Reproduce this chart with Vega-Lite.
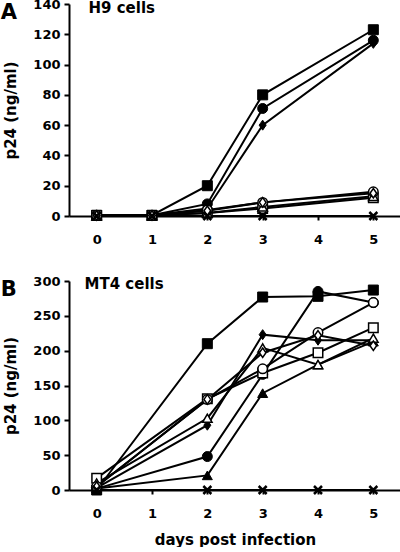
{
  "$schema": "https://vega.github.io/schema/vega-lite/v6.json",
  "padding": {"left": 0, "top": -2, "right": 0, "bottom": 0},
  "background": "white",
  "spacing": 65,
  "bounds": "flush",
  "config": {
    "view": {"stroke": null},
    "font": "DejaVu Sans",
    "axis": {
      "grid": false,
      "domainColor": "black",
      "domainWidth": 2,
      "tickColor": "black",
      "tickWidth": 2,
      "labelColor": "black",
      "labelFont": "DejaVu Sans",
      "labelFontWeight": "bold",
      "labelFontSize": 13,
      "labelFlush": false,
      "labelOverlap": false,
      "format": "d",
      "titleColor": "black",
      "titleFont": "DejaVu Sans",
      "titleFontWeight": "bold",
      "titleFontSize": 15
    },
    "title": {"color": "black", "font": "DejaVu Sans", "fontWeight": "bold", "fontSize": 21}
  },
  "datasets": {
    "h9": [
      {"series": "filled square", "day": 0, "p24": 0.5},
      {"series": "filled square", "day": 1, "p24": 0.5},
      {"series": "filled square", "day": 2, "p24": 20},
      {"series": "filled square", "day": 3, "p24": 80},
      {"series": "filled square", "day": 5, "p24": 123},
      {"series": "filled circle", "day": 0, "p24": 0.5},
      {"series": "filled circle", "day": 1, "p24": 0.5},
      {"series": "filled circle", "day": 2, "p24": 8},
      {"series": "filled circle", "day": 3, "p24": 71},
      {"series": "filled circle", "day": 5, "p24": 116},
      {"series": "filled diamond", "day": 0, "p24": 0.5},
      {"series": "filled diamond", "day": 1, "p24": 0.5},
      {"series": "filled diamond", "day": 2, "p24": 5},
      {"series": "filled diamond", "day": 3, "p24": 60},
      {"series": "filled diamond", "day": 5, "p24": 114},
      {"series": "open square", "day": 0, "p24": 0.3},
      {"series": "open square", "day": 1, "p24": 0.3},
      {"series": "open square", "day": 2, "p24": 2},
      {"series": "open square", "day": 3, "p24": 5},
      {"series": "open square", "day": 5, "p24": 12},
      {"series": "open triangle", "day": 0, "p24": 0.3},
      {"series": "open triangle", "day": 1, "p24": 0.3},
      {"series": "open triangle", "day": 2, "p24": 2},
      {"series": "open triangle", "day": 3, "p24": 6},
      {"series": "open triangle", "day": 5, "p24": 13},
      {"series": "open circle", "day": 0, "p24": 0.3},
      {"series": "open circle", "day": 1, "p24": 0.3},
      {"series": "open circle", "day": 2, "p24": 4},
      {"series": "open circle", "day": 3, "p24": 9},
      {"series": "open circle", "day": 5, "p24": 16},
      {"series": "open diamond", "day": 0, "p24": 0.3},
      {"series": "open diamond", "day": 1, "p24": 0.3},
      {"series": "open diamond", "day": 2, "p24": 3.5},
      {"series": "open diamond", "day": 3, "p24": 9},
      {"series": "open diamond", "day": 5, "p24": 15},
      {"series": "cross", "day": 0, "p24": 0},
      {"series": "cross", "day": 1, "p24": 0},
      {"series": "cross", "day": 2, "p24": 0},
      {"series": "cross", "day": 3, "p24": 0},
      {"series": "cross", "day": 5, "p24": 0}
    ],
    "mt4": [
      {"series": "filled triangle", "day": 0, "p24": 2},
      {"series": "filled triangle", "day": 2, "p24": 21},
      {"series": "filled triangle", "day": 3, "p24": 139},
      {"series": "filled triangle", "day": 4, "p24": 180},
      {"series": "filled triangle", "day": 5, "p24": 213},
      {"series": "filled circle", "day": 0, "p24": 2},
      {"series": "filled circle", "day": 2, "p24": 48},
      {"series": "filled circle", "day": 3, "p24": 166},
      {"series": "filled circle", "day": 4, "p24": 285},
      {"series": "filled circle", "day": 5, "p24": 269},
      {"series": "filled diamond", "day": 0, "p24": 3},
      {"series": "filled diamond", "day": 2, "p24": 93},
      {"series": "filled diamond", "day": 3, "p24": 223},
      {"series": "filled diamond", "day": 4, "p24": 215},
      {"series": "filled diamond", "day": 5, "p24": 215},
      {"series": "filled square", "day": 0, "p24": 0},
      {"series": "filled square", "day": 2, "p24": 210},
      {"series": "filled square", "day": 3, "p24": 277},
      {"series": "filled square", "day": 4, "p24": 278},
      {"series": "filled square", "day": 5, "p24": 287},
      {"series": "open square", "day": 0, "p24": 17},
      {"series": "open square", "day": 2, "p24": 131},
      {"series": "open square", "day": 3, "p24": 168},
      {"series": "open square", "day": 4, "p24": 197},
      {"series": "open square", "day": 5, "p24": 233},
      {"series": "open triangle", "day": 0, "p24": 10},
      {"series": "open triangle", "day": 2, "p24": 103},
      {"series": "open triangle", "day": 3, "p24": 204},
      {"series": "open triangle", "day": 4, "p24": 180},
      {"series": "open triangle", "day": 5, "p24": 218},
      {"series": "open circle", "day": 0, "p24": 5},
      {"series": "open circle", "day": 2, "p24": 130},
      {"series": "open circle", "day": 3, "p24": 174},
      {"series": "open circle", "day": 4, "p24": 226},
      {"series": "open circle", "day": 5, "p24": 269},
      {"series": "open diamond", "day": 0, "p24": 5},
      {"series": "open diamond", "day": 2, "p24": 130},
      {"series": "open diamond", "day": 3, "p24": 197},
      {"series": "open diamond", "day": 4, "p24": 222},
      {"series": "open diamond", "day": 5, "p24": 207},
      {"series": "cross", "day": 0, "p24": 0},
      {"series": "cross", "day": 2, "p24": 0},
      {"series": "cross", "day": 3, "p24": 0},
      {"series": "cross", "day": 4, "p24": 0},
      {"series": "cross", "day": 5, "p24": 0}
    ]
  },
  "vconcat": [
    {
      "width": 332,
      "height": 212,
      "data": {"name": "h9"},
      "title": {"text": "A", "anchor": "start", "frame": "bounds", "offset": -25, "dx": -3},
      "resolve": {"axis": {"x": "independent"}},
      "encoding": {
        "y": {"field": "p24", "type": "quantitative", "scale": {"domain": [0, 140]},
              "axis": {"values": [0, 20, 40, 60, 80, 100, 120, 140], "labelOverlap": false, "title": "p24 (ng/ml)", "tickSize": 5, "labelPadding": 4, "titlePadding": 14}}
      },
      "layer": [
        {
          "mark": {"type": "line", "color": "black", "strokeWidth": 2},
          "encoding": {
            "x": {"field": "day", "type": "quantitative", "scale": {"domain": [-0.5, 5.5]},
                  "axis": {"values": [0, 1, 2, 3, 4, 5], "title": null, "tickSize": 4, "labelPadding": 13}},
            "detail": {"field": "series"}
          }
        },
        {
          "transform": [{"filter": "indexof(datum.series, 'filled') === 0"}],
          "mark": {"type": "point", "stroke": "black", "fill": "black", "filled": true, "opacity": 1, "size": 100, "strokeWidth": 1},
          "encoding": {
            "x": {"field": "day", "type": "quantitative", "axis": null},
            "shape": {"field": "series", "type": "nominal", "legend": null,
              "scale": {"domain": ["filled square", "filled circle", "filled diamond", "filled triangle", "open square", "open circle", "open diamond", "open triangle", "cross"],
                        "range": ["square", "circle", "M0,-1L0.7,0L0,1L-0.7,0Z", "triangle-up", "square", "circle", "M0,-1L0.7,0L0,1L-0.7,0Z", "triangle-up", "M-1,-1L1,1M-1,1L1,-1"]}}
          }
        },
        {
          "transform": [{"filter": "indexof(datum.series, 'open') === 0"}],
          "mark": {"type": "point", "stroke": "black", "fill": "white", "opacity": 1, "fillOpacity": 1, "size": 90, "strokeWidth": 1.5},
          "encoding": {
            "x": {"field": "day", "type": "quantitative", "axis": null},
            "shape": {"field": "series", "type": "nominal", "legend": null}
          }
        },
        {
          "transform": [{"filter": "datum.series === 'cross'"}],
          "mark": {"type": "point", "stroke": "black", "fill": null, "opacity": 1, "size": 64, "strokeWidth": 2.5},
          "encoding": {
            "x": {"field": "day", "type": "quantitative",
                  "axis": {"orient": "top", "domain": false, "ticks": false, "labels": false, "title": "H9 cells",
                           "titleAnchor": "start", "titleAlign": "left", "titleX": 19, "titleBaseline": "alphabetic", "titlePadding": -8}},
            "shape": {"field": "series", "type": "nominal", "legend": null}
          }
        }
      ]
    },
    {
      "width": 332,
      "height": 209,
      "data": {"name": "mt4"},
      "title": {"text": "B", "anchor": "start", "frame": "bounds", "offset": -25, "dx": -3},
      "resolve": {"axis": {"x": "independent"}},
      "encoding": {
        "y": {"field": "p24", "type": "quantitative", "scale": {"domain": [0, 300]},
              "axis": {"values": [0, 50, 100, 150, 200, 250, 300], "labelOverlap": false, "title": "p24 (ng/ml)", "tickSize": 5, "labelPadding": 4, "titlePadding": 14}}
      },
      "layer": [
        {
          "mark": {"type": "line", "color": "black", "strokeWidth": 2},
          "encoding": {
            "x": {"field": "day", "type": "quantitative", "scale": {"domain": [-0.5, 5.5]},
                  "axis": {"values": [0, 1, 2, 3, 4, 5], "title": "days post infection", "tickSize": 4, "labelPadding": 13, "titlePadding": 12}},
            "detail": {"field": "series"}
          }
        },
        {
          "transform": [{"filter": "indexof(datum.series, 'filled') === 0"}],
          "mark": {"type": "point", "stroke": "black", "fill": "black", "filled": true, "opacity": 1, "size": 100, "strokeWidth": 1},
          "encoding": {
            "x": {"field": "day", "type": "quantitative", "axis": null},
            "shape": {"field": "series", "type": "nominal", "legend": null,
              "scale": {"domain": ["filled square", "filled circle", "filled diamond", "filled triangle", "open square", "open circle", "open diamond", "open triangle", "cross"],
                        "range": ["square", "circle", "M0,-1L0.7,0L0,1L-0.7,0Z", "triangle-up", "square", "circle", "M0,-1L0.7,0L0,1L-0.7,0Z", "triangle-up", "M-1,-1L1,1M-1,1L1,-1"]}}
          }
        },
        {
          "transform": [{"filter": "indexof(datum.series, 'open') === 0"}],
          "mark": {"type": "point", "stroke": "black", "fill": "white", "opacity": 1, "fillOpacity": 1, "size": 90, "strokeWidth": 1.5},
          "encoding": {
            "x": {"field": "day", "type": "quantitative", "axis": null},
            "shape": {"field": "series", "type": "nominal", "legend": null}
          }
        },
        {
          "transform": [{"filter": "datum.series === 'cross'"}],
          "mark": {"type": "point", "stroke": "black", "fill": null, "opacity": 1, "size": 64, "strokeWidth": 2.5},
          "encoding": {
            "x": {"field": "day", "type": "quantitative",
                  "axis": {"orient": "top", "domain": false, "ticks": false, "labels": false, "title": "MT4 cells",
                           "titleAnchor": "start", "titleAlign": "left", "titleX": 15, "titleBaseline": "alphabetic", "titlePadding": -7}},
            "shape": {"field": "series", "type": "nominal", "legend": null}
          }
        }
      ]
    }
  ]
}
